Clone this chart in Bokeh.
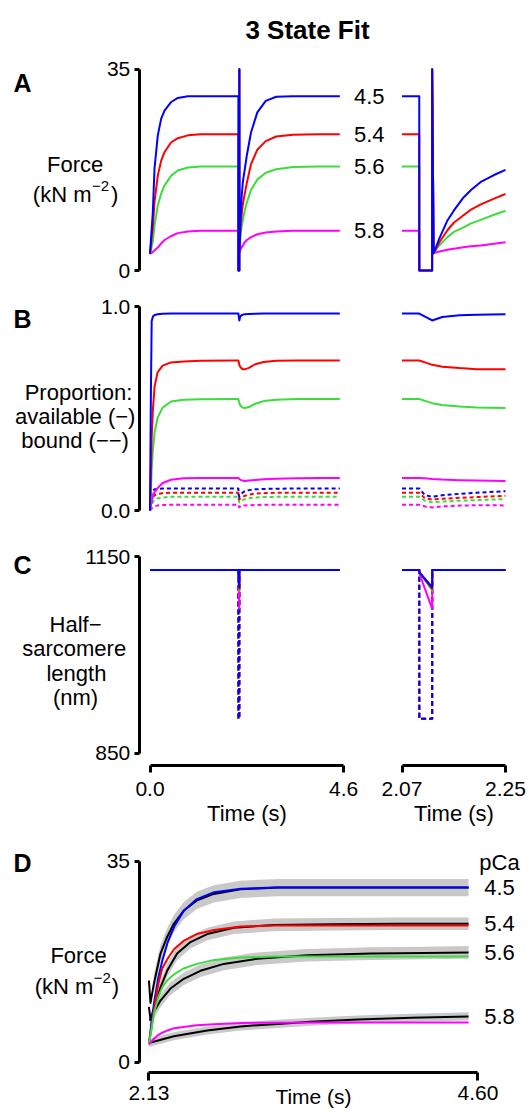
from bokeh.plotting import figure
from bokeh.models import Range1d, LinearAxis, FixedTicker, PrintfTickFormatter
from bokeh.core.properties import value
from bokeh.embed import file_html
from bokeh.resources import INLINE

# ---------------- values ----------------
PCA_LABELS = ["4.5", "5.4", "5.6", "5.8"]
COLORS = ["#0000ff", "#ff0000", "#3ddc3d", "#ff00ff"]

# Panel A: force (kN m-2) against time (s)
A_T = [0.0, 0.067, 0.107, 0.185, 0.266, 0.345, 0.504, 0.66, 0.9, 1.2, 1.6, 2.07, 2.10, 2.1001,
       2.1224, 2.1225, 2.125, 2.135, 2.149, 2.16, 2.177, 2.19, 2.207, 2.23, 2.25,
       2.3, 2.4, 2.55, 2.75, 3.0, 3.4, 4.0, 4.51]
A_F45 = [2.9, 10.1, 17.7, 23.5, 26.4, 27.8, 29.3, 30.0, 30.3, 30.3, 30.3, 30.3, 30.3, 0.0,
         0.0, 35.0, 3.0, 5.6, 8.7, 10.4, 12.7, 14.0, 15.4, 16.6, 17.5,
         20.0, 24.0, 27.5, 29.5, 30.2, 30.3, 30.3, 30.3]
A_F54 = [2.9, 7.5, 11.9, 16.5, 19.1, 20.6, 22.3, 23.0, 23.5, 23.7, 23.7, 23.7, 23.7, 0.0,
         0.0, 35.0, 3.0, 4.9, 7.0, 8.3, 9.6, 10.6, 11.5, 12.5, 13.3,
         15.2, 18.5, 21.0, 22.5, 23.3, 23.6, 23.7, 23.7]
A_F56 = [2.9, 5.0, 7.8, 11.3, 13.4, 14.8, 16.5, 17.4, 17.9, 18.1, 18.1, 18.1, 18.1, 0.0,
         0.0, 35.0, 3.0, 4.4, 5.8, 6.7, 7.5, 8.2, 8.8, 9.7, 10.4,
         11.8, 14.0, 15.8, 17.0, 17.6, 18.0, 18.1, 18.1]
A_F58 = [2.9, 3.2, 3.5, 4.0, 4.7, 5.3, 6.0, 6.5, 6.8, 6.9, 6.9, 6.9, 6.9, 0.0,
         0.0, 35.0, 3.0, 3.3, 3.6, 3.8, 4.05, 4.2, 4.35, 4.65, 4.9,
         5.3, 5.8, 6.3, 6.6, 6.8, 6.9, 6.9, 6.9]

# Panel B: proportion available (solid) and bound (dashed)
B_T = [0.0, 0.02, 0.04, 0.07, 0.11, 0.18, 0.3, 0.5, 0.8, 1.2, 2.07, 2.10, 2.11, 2.1225,
       2.14, 2.17, 2.20, 2.25, 2.35, 2.5, 2.7, 3.0, 3.5, 4.0, 4.51]
B_AV45 = [0.0, 0.55, 0.93, 0.952, 0.96, 0.963, 0.966, 0.967, 0.967, 0.967, 0.967, 0.967, 0.952,
          0.933, 0.950, 0.958, 0.961, 0.963, 0.965, 0.966, 0.967, 0.967, 0.967, 0.967, 0.967]
B_AV54 = [0.0, 0.17, 0.36, 0.50, 0.61, 0.678, 0.711, 0.727, 0.732, 0.735, 0.736, 0.736, 0.727,
          0.715, 0.706, 0.699, 0.694, 0.693, 0.700, 0.718, 0.729, 0.735, 0.736, 0.736, 0.736]
B_AV56 = [0.0, 0.08, 0.20, 0.30, 0.385, 0.455, 0.505, 0.535, 0.544, 0.546, 0.547, 0.547, 0.538,
          0.527, 0.518, 0.510, 0.506, 0.503, 0.508, 0.524, 0.537, 0.544, 0.547, 0.547, 0.547]
B_AV58 = [0.0, 0.02, 0.045, 0.07, 0.09, 0.11, 0.135, 0.151, 0.158, 0.16, 0.16, 0.16, 0.158,
          0.155, 0.152, 0.149, 0.147, 0.145, 0.147, 0.150, 0.153, 0.156, 0.158, 0.159, 0.159]
B_BD45 = [0.0, 0.06, 0.09, 0.10, 0.104, 0.106, 0.108, 0.108, 0.108, 0.108, 0.108, 0.108, 0.075,
          0.067, 0.075, 0.082, 0.087, 0.095, 0.100, 0.104, 0.106, 0.107, 0.108, 0.108, 0.108]
B_BD54 = [0.0, 0.03, 0.05, 0.065, 0.075, 0.081, 0.085, 0.087, 0.087, 0.087, 0.087, 0.087, 0.060,
          0.054, 0.058, 0.062, 0.066, 0.072, 0.078, 0.083, 0.085, 0.087, 0.087, 0.087, 0.087]
B_BD56 = [0.0, 0.015, 0.03, 0.042, 0.052, 0.059, 0.064, 0.067, 0.067, 0.067, 0.067, 0.067, 0.048,
          0.040, 0.044, 0.048, 0.051, 0.056, 0.060, 0.064, 0.066, 0.067, 0.067, 0.067, 0.067]
B_BD58 = [0.0, 0.005, 0.01, 0.015, 0.02, 0.025, 0.027, 0.028, 0.028, 0.028, 0.028, 0.028, 0.02,
          0.015, 0.02, 0.024, 0.026, 0.025, 0.026, 0.027, 0.028, 0.028, 0.028, 0.028, 0.028]

# Panel C: half-sarcomere length (solid) and motor length (dashed), nm
C_T = [0.0, 2.07, 2.10, 2.1005, 2.1225, 2.1226, 2.25, 4.51]
C_L45 = [1130, 1130, 1130, 1126, 1103.5, 1130, 1130, 1130]
C_L54 = [1130, 1130, 1130, 1126, 1101.0, 1130, 1130, 1130]
C_L56 = [1130, 1130, 1130, 1126, 1098.5, 1130, 1130, 1130]
C_L58 = [1130, 1130, 1130, 1124, 1070.5, 1130, 1130, 1130]
C_MT = [0.0, 2.07, 2.10, 2.1001, 2.1225, 2.1226, 2.25, 4.51]
C_MOTOR = [1130, 1130, 1130, 902.5, 902.5, 1130, 1130, 1130]

# Panel D: model (coloured) and experiment mean (black) +/- SEM (grey)
D_T = [2.13, 2.15, 2.17, 2.2, 2.23, 2.27, 2.32, 2.39, 2.49, 2.62, 2.82, 3.07, 3.4, 3.8, 4.2, 4.53]
D_M45 = [3.1, 7.0, 10.5, 14.6, 17.6, 20.8, 23.6, 26.3, 28.4, 29.6, 30.2, 30.4, 30.4, 30.4, 30.4, 30.4]
D_M54 = [3.1, 6.0, 9.3, 13.5, 16.3, 18.0, 19.7, 21.1, 22.3, 23.0, 23.6, 23.8, 23.8, 23.8, 23.8, 23.8]
D_M56 = [3.1, 5.8, 8.6, 11.3, 13.0, 14.3, 15.3, 16.3, 17.1, 17.8, 18.2, 18.4, 18.4, 18.4, 18.4, 18.4]
D_M58 = [3.1, 3.6, 4.1, 4.7, 5.1, 5.5, 5.9, 6.1, 6.4, 6.6, 6.8, 6.85, 6.9, 6.9, 6.9, 6.9]
D_E45_T = [2.13, 2.142, 2.167, 2.217, 2.267, 2.317, 2.392, 2.493, 2.617, 2.818, 3.1, 3.6, 4.1, 4.53]
D_E45 = [14.2, 10.3, 13.6, 18.9, 21.8, 24.1, 26.4, 28.2, 29.3, 30.1, 30.4, 30.4, 30.4, 30.4]
D_E54_T = [2.13, 2.142, 2.18, 2.217, 2.267, 2.342, 2.442, 2.568, 2.768, 3.068, 3.5, 4.0, 4.53]
D_E54 = [9.6, 7.4, 10.1, 13.0, 15.9, 18.9, 20.9, 22.3, 23.4, 23.9, 24.0, 24.1, 24.1]
D_E56_T = [2.137, 2.167, 2.217, 2.292, 2.392, 2.517, 2.692, 2.943, 3.318, 3.8, 4.2, 4.53]
D_E56 = [7.2, 8.7, 10.7, 12.8, 14.5, 15.9, 17.1, 18.0, 18.6, 18.9, 19.0, 19.1]
D_E58_T = [2.13, 2.317, 2.568, 2.818, 3.068, 3.343, 3.7, 4.1, 4.53]
D_E58 = [3.3, 4.5, 5.5, 6.2, 6.6, 7.0, 7.4, 7.7, 7.95]
D_SEM = [1.5, 1.1, 1.1, 0.7]
D_BAND_FROM = [2, 2, 0, 0]

# tick values
A_YTICKS = [0, 35]
B_YTICKS = [0.0, 1.0]
C_YTICKS = [850, 1150]
D_YTICKS = [0, 35]
LEFT_XTICKS = [0.0, 4.6]
RIGHT_XTICKS = [2.07, 2.25]
D_XTICKS = [2.13, 4.60]

# ---------------- layout (picture pixels) ----------------
W, H = 529, 1113
PL, PR, PB, PT = 0, W, H, 0
FONT = "Liberation Sans"


def lin(v1, p1, v2, p2, pix):
    return v1 + (pix - p1) * (v2 - v1) / (p2 - p1)


XCAL = {"left": (0.0, 149.5, 4.6, 343.1),
        "right": (2.07, 401.5, 2.25, 505.0),
        "d": (2.13, 148.4, 4.60, 477.4)}
YCAL = {"A": (0.0, 270.0, 35.0, 68.7),
        "B": (0.0, 510.0, 1.0, 306.3),
        "C": (850.0, 752.7, 1150.0, 556.3),
        "D": (0.0, 1061.5, 35.0, 860.7)}

p = figure(width=W, height=H, x_range=Range1d(PL, PR), y_range=Range1d(PB, PT),
           x_axis_type=None, y_axis_type=None, toolbar_location=None,
           output_backend="svg", min_border=0, outline_line_color=None)
p.background_fill_color = "white"
p.border_fill_color = "white"
p.extra_x_ranges = {k: Range1d(lin(*c, PL), lin(*c, PR)) for k, c in XCAL.items()}
p.extra_y_ranges = {k: Range1d(lin(*c, PB), lin(*c, PT)) for k, c in YCAL.items()}


def axis_common(ax, fmt, out, standoff):
    ax.formatter = PrintfTickFormatter(format=fmt)
    ax.axis_line_width = 3
    ax.axis_line_color = "black"
    ax.major_tick_line_width = 3
    ax.major_tick_line_color = "black"
    ax.major_tick_in = 0
    ax.major_tick_out = out
    ax.minor_tick_line_color = None
    ax.major_label_standoff = standoff
    ax.major_label_text_font = FONT
    ax.major_label_text_font_size = "21px"
    ax.major_label_text_color = "black"


def y_axis(xr, yr, ticks, fmt, xpix):
    ax = LinearAxis(x_range_name=xr, y_range_name=yr, fixed_location=lin(*XCAL[xr], xpix),
                    ticker=FixedTicker(ticks=ticks), bounds=(ticks[0], ticks[-1]))
    axis_common(ax, fmt, 5, 4)
    p.add_layout(ax, "left")


def x_axis(xr, yr, ticks, fmt, ypix, out, standoff, label=None):
    ax = LinearAxis(x_range_name=xr, y_range_name=yr, fixed_location=lin(*YCAL[yr], ypix),
                    ticker=FixedTicker(ticks=ticks), bounds=(ticks[0], ticks[-1]))
    axis_common(ax, fmt, out, standoff)
    if label:
        ax.axis_label = label
        ax.axis_label_text_font = FONT
        ax.axis_label_text_font_size = "22px"
        ax.axis_label_text_font_style = "normal"
        ax.axis_label_text_color = "black"
        ax.axis_label_standoff = 2
    p.add_layout(ax, "below")


y_axis("left", "A", A_YTICKS, "%d", 138.8)
y_axis("left", "B", B_YTICKS, "%.1f", 138.8)
y_axis("left", "C", C_YTICKS, "%d", 138.8)
y_axis("d", "D", D_YTICKS, "%d", 138.5)
x_axis("left", "C", LEFT_XTICKS, "%.1f", 765.2, 7, 9, "Time (s)")
x_axis("right", "C", RIGHT_XTICKS, "%.2f", 765.2, 7, 9, "Time (s)")
x_axis("d", "D", D_XTICKS, "%.2f", 1071.6, 8, 6)


def clip(t, y, lo, hi):
    keep = [(a, b) for a, b in zip(t, y) if lo <= a <= hi]
    return [k[0] for k in keep], [k[1] for k in keep]


def draw(yr, t, series, dash="solid"):
    # coloured series, drawn so that blue ends on top
    for ys, col in reversed(list(zip(series, COLORS))):
        p.line(t, ys, x_range_name="left", y_range_name=yr, line_color=col,
               line_width=2, line_dash=dash, line_join="round")
        tr, yv = clip(t, ys, RIGHT_XTICKS[0], RIGHT_XTICKS[-1])
        p.line(tr, yv, x_range_name="right", y_range_name=yr, line_color=col,
               line_width=2, line_dash=dash, line_join="round")


draw("A", A_T, [A_F45, A_F54, A_F56, A_F58])
draw("B", B_T, [B_BD45, B_BD54, B_BD56, B_BD58], dash="4 3")
draw("B", B_T, [B_AV45, B_AV54, B_AV56, B_AV58])
draw("C", C_MT, [C_MOTOR] * 4, dash="5 3")
draw("C", C_T, [C_L45, C_L54, C_L56, C_L58])

# Panel D
E_T = [D_E45_T, D_E54_T, D_E56_T, D_E58_T]
E_F = [D_E45, D_E54, D_E56, D_E58]
for t, f, s, i0 in zip(E_T, E_F, D_SEM, D_BAND_FROM):
    p.varea(x=t[i0:], y1=[v - s for v in f[i0:]], y2=[v + s for v in f[i0:]],
            x_range_name="d", y_range_name="D", fill_color="#c9c9c9", fill_alpha=1.0)
for t, f in zip(E_T, E_F):
    p.line(t, f, x_range_name="d", y_range_name="D", line_color="black", line_width=2,
           line_join="round")
for ys, col in zip([D_M45, D_M54, D_M56, D_M58], COLORS):
    p.line(D_T, ys, x_range_name="d", y_range_name="D", line_color=col, line_width=2,
           line_join="round")


def txt(x, y, s, size="22px", align="center", baseline="alphabetic", bold=False,
        xr="default", yr="default"):
    kw = {}
    if xr != "default":
        kw["x_range_name"] = xr
    if yr != "default":
        kw["y_range_name"] = yr
    p.text(x=[x], y=[y], text=[s], text_font=value(FONT), text_font_size=value(size),
           text_align=align, text_baseline=baseline,
           text_font_style="bold" if bold else "normal", text_color="black", **kw)


txt(307, 29.7, "3 State Fit", size="26px", bold=True)
for letter, base in zip(["A", "B", "C", "D"], [82.7, 318.8, 564.5, 862.4]):
    txt(13, base, letter, size="25px", align="left", bold=True)

# y labels
txt(74.7, 164.3, "Force")
txt(91.0, 194.0, "(kN m", align="right")
txt(91.5, 185.0, "\u22122", size="15px", align="left")
txt(110.5, 194.0, ")", align="left")
txt(78.0, 392.3, "Proportion:")
txt(74.7, 416.2, "available (\u2212)")
txt(74.6, 440.3, "bound (\u2212\u2212)")
txt(75.0, 623.5, "Half\u2212")
txt(73.7, 648.0, "sarcomere")
txt(75.9, 672.5, "length")
txt(75.0, 697.0, "(nm)")
txt(78.0, 954.5, "Force")
txt(92.8, 985.5, "(kN m", align="right")
txt(93.3, 977.0, "\u22122", size="15px", align="left")
txt(111.3, 985.5, ")", align="left")
txt(313.0, 1096.0, "Time (s)", size="21px")
txt(499.0, 862.0, "pCa")

# pCa labels next to the traces
for lab, ys in zip(PCA_LABELS, [A_F45, A_F54, A_F56, A_F58]):
    txt(368.8, ys[-1], lab, baseline="middle", yr="A")
for lab, ys in zip(PCA_LABELS, E_F):
    txt(499.0, ys[-1], lab, baseline="middle", yr="D")

open("out.html", "w").write(file_html(p, INLINE))
